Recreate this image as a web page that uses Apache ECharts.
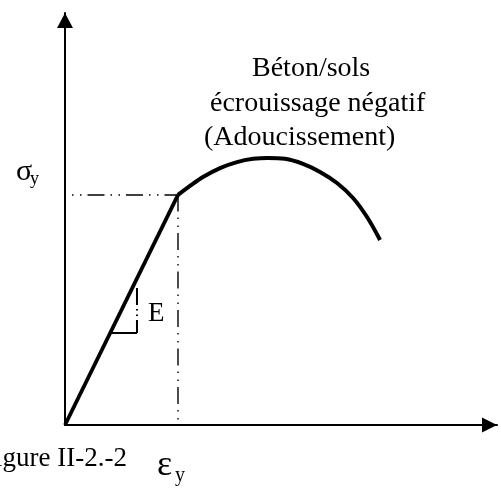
<!DOCTYPE html>
<html>
<head>
<meta charset="utf-8">
<script src="https://cdn.jsdelivr.net/npm/echarts@6/dist/echarts.min.js"></script>
<style>
  html, body { margin: 0; padding: 0; background: #fff; }
  #chart { width: 501px; height: 490px; }
</style>
</head>
<body>
<div id="chart"></div>
<script>
// Normalised strain / stress: the yield point sits at (1, 1).
const strainMax = 3.823;
const stressMax = 1.791;

// Linear elastic branch, from the origin to the yield point.
const elasticStrain = [0, 1];
const elasticStress = [0, 1];

// Softening branch after yield (hump then descent).
const softeningStrain = [1.000, 1.106, 1.221, 1.372, 1.522, 1.664, 1.796, 1.947, 2.106, 2.257, 2.407, 2.549, 2.673, 2.788];
const softeningStress = [1.000, 1.039, 1.078, 1.117, 1.143, 1.157, 1.161, 1.157, 1.135, 1.100, 1.052, 0.987, 0.904, 0.804];

// Dash-dot guides marking σy and εy.
const guideHStrain = [0.062, 1];
const guideHStress = [1, 1];
const guideVStrain = [1, 1];
const guideVStress = [1, 0];

// Slope triangle for the modulus E.
const slopeRunStrain = [0.41, 0.637];
const slopeRunStress = [0.40, 0.40];
const slopeRiseStrain = [0.637, 0.637];
const slopeRiseStress = [0.596, 0.40];

// Annotation texts.
const materialLines = ['Béton/sols', 'écrouissage négatif', '(Adoucissement)'];
const modulusLabel = 'E';
const stressSymbol = ['σ', 'y'];
const strainSymbol = ['ε', 'y'];
const captionText = 'Figure II-2.-2';

const pairs = (xs, ys) => xs.map((x, i) => [x, ys[i]]);
const SERIF = '"Liberation Serif", "Times New Roman", serif';
const dashDot = [1.5, 6.5, 1.5, 6, 17, 6];

const chart = echarts.init(document.getElementById('chart'), null, { renderer: 'canvas' });

const axisCommon = {
  type: 'value',
  min: 0,
  axisTick: { show: false },
  axisLabel: { show: false },
  splitLine: { show: false }
};

chart.setOption({
  animation: false,
  backgroundColor: '#fff',
  grid: { left: 65, right: 4, top: 13, bottom: 65, containLabel: false },
  xAxis: Object.assign({}, axisCommon, {
    max: strainMax,
    axisLine: {
      show: true,
      symbol: ['none', 'triangle'],
      symbolSize: [15, 15],
      symbolOffset: [0, -7.5],
      lineStyle: { color: '#000', width: 2 }
    }
  }),
  yAxis: Object.assign({}, axisCommon, {
    max: stressMax,
    axisLine: {
      show: true,
      symbol: ['none', 'triangle'],
      symbolSize: [16, 15],
      symbolOffset: [0, -7.5],
      lineStyle: { color: '#000', width: 2 }
    }
  }),
  series: [
    {
      name: 'guide-h', type: 'line', symbol: 'none', silent: true,
      data: pairs(guideHStrain, guideHStress),
      lineStyle: { color: '#000', width: 1.4, type: dashDot }
    },
    {
      name: 'guide-v', type: 'line', symbol: 'none', silent: true,
      data: pairs(guideVStrain, guideVStress),
      lineStyle: { color: '#000', width: 1.4, type: dashDot, dashOffset: 16 }
    },
    {
      name: 'slope-run', type: 'line', symbol: 'none', silent: true,
      data: pairs(slopeRunStrain, slopeRunStress),
      lineStyle: { color: '#000', width: 2 }
    },
    {
      name: 'slope-rise', type: 'line', symbol: 'none', silent: true,
      data: pairs(slopeRiseStrain, slopeRiseStress),
      lineStyle: { color: '#000', width: 2, type: [17, 4, 1.5, 4, 1.5, 4, 13] }
    },
    {
      name: 'elastic', type: 'line', symbol: 'none', silent: true,
      data: pairs(elasticStrain, elasticStress),
      lineStyle: { color: '#000', width: 3.8 }
    },
    {
      name: 'softening', type: 'line', symbol: 'none', silent: true, smooth: 0.35,
      data: pairs(softeningStrain, softeningStress),
      lineStyle: { color: '#000', width: 4 }
    }
  ],
  graphic: [
    { type: 'text', style: { text: materialLines[0], x: 252, y: 69, font: '28px ' + SERIF, fill: '#000', align: 'left', verticalAlign: 'middle' } },
    { type: 'text', style: { text: materialLines[1], x: 210, y: 104, font: '28px ' + SERIF, fill: '#000', align: 'left', verticalAlign: 'middle' } },
    { type: 'text', style: { text: materialLines[2], x: 204, y: 138, font: '28px ' + SERIF, fill: '#000', align: 'left', verticalAlign: 'middle' } },
    { type: 'text', style: { text: modulusLabel, x: 148, y: 314, font: '27px ' + SERIF, fill: '#000', align: 'left', verticalAlign: 'middle' } },
    { type: 'text', style: { text: stressSymbol[0], x: 16, y: 172, font: '30px ' + SERIF, fill: '#000', align: 'left', verticalAlign: 'middle' } },
    { type: 'text', style: { text: stressSymbol[1], x: 30, y: 179, font: '18px ' + SERIF, fill: '#000', align: 'left', verticalAlign: 'middle' } },
    { type: 'text', style: { text: strainSymbol[0], x: 157, y: 466, font: '36px ' + SERIF, fill: '#000', align: 'left', verticalAlign: 'middle' } },
    { type: 'text', style: { text: strainSymbol[1], x: 175, y: 476, font: '20px ' + SERIF, fill: '#000', align: 'left', verticalAlign: 'middle' } },
    { type: 'text', style: { text: captionText, x: 127, y: 459, font: '27px ' + SERIF, fill: '#000', align: 'right', verticalAlign: 'middle' } }
  ]
});
</script>
</body>
</html>
